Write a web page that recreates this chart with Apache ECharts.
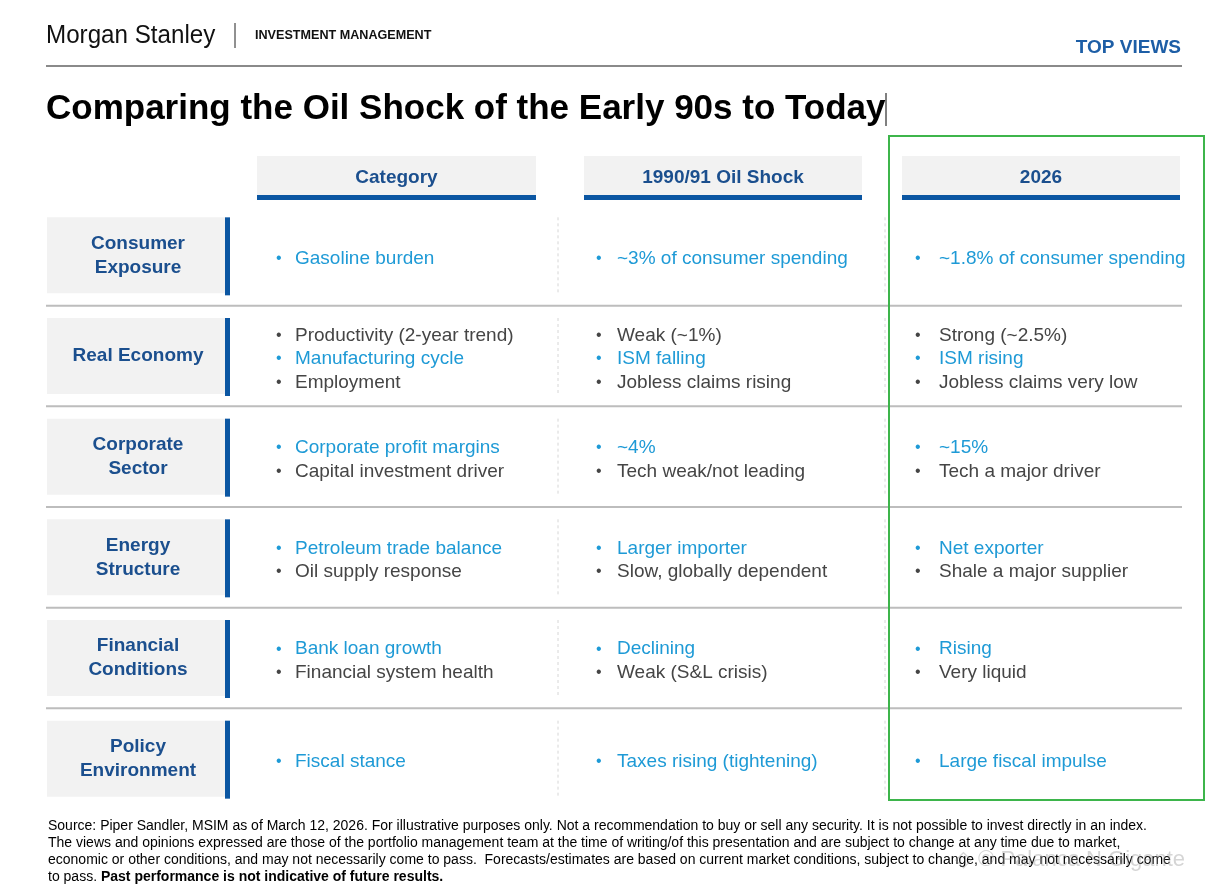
<!DOCTYPE html>
<html>
<head>
<meta charset="utf-8">
<title>Comparing the Oil Shock of the Early 90s to Today</title>
<script src="https://cdn.jsdelivr.net/npm/echarts@6/dist/echarts.min.js"></script>
<style>
  html, body { margin: 0; padding: 0; background: #fff; }
  #chart { width: 1222px; height: 884px; }
</style>
</head>
<body>
<div id="chart"></div>
<script>
// table content
const rowLabels = [
  'Consumer\nExposure',
  'Real Economy',
  'Corporate\nSector',
  'Energy\nStructure',
  'Financial\nConditions',
  'Policy\nEnvironment'
];

const columnHeaders = ['Category', '1990/91 Oil Shock', '2026'];

const categoryItems = [
  ['Gasoline burden'],
  ['Productivity (2-year trend)', 'Manufacturing cycle', 'Employment'],
  ['Corporate profit margins', 'Capital investment driver'],
  ['Petroleum trade balance', 'Oil supply response'],
  ['Bank loan growth', 'Financial system health'],
  ['Fiscal stance']
];

const oilShockItems = [
  ['~3% of consumer spending'],
  ['Weak (~1%)', 'ISM falling', 'Jobless claims rising'],
  ['~4%', 'Tech weak/not leading'],
  ['Larger importer', 'Slow, globally dependent'],
  ['Declining', 'Weak (S&L crisis)'],
  ['Taxes rising (tightening)']
];

const todayItems = [
  ['~1.8% of consumer spending'],
  ['Strong (~2.5%)', 'ISM rising', 'Jobless claims very low'],
  ['~15%', 'Tech a major driver'],
  ['Net exporter', 'Shale a major supplier'],
  ['Rising', 'Very liquid'],
  ['Large fiscal impulse']
];

// which bullet in each row is the highlighted (blue) one
const highlighted = [
  [true],
  [false, true, false],
  [true, false],
  [true, false],
  [true, false],
  [true]
];

const footnoteLines = [
  'Source: Piper Sandler, MSIM as of March 12, 2026. For illustrative purposes only. Not a recommendation to buy or sell any security. It is not possible to invest directly in an index.',
  'The views and opinions expressed are those of the portfolio management team at the time of writing/of this presentation and are subject to change at any time due to market,',
  'economic or other conditions, and may not necessarily come to pass.  Forecasts/estimates are based on current market conditions, subject to change, and may not necessarily come'
];

const FONT = '"Liberation Sans", Arial, sans-serif';
const NAVY = '#1b4f8e';
const BAR_BLUE = '#0b56a2';
const LIGHT_BLUE = '#1e9ad6';
const DARK_GRAY = '#454545';
const PANEL = '#f2f2f2';

const columnData = [categoryItems, oilShockItems, todayItems];
const bulletX = [276, 596, 915];
const textX = [295, 617, 939];
const headerBox = [[257, 536], [584, 862], [902, 1180]];

const chart = echarts.init(document.getElementById('chart'), null, { renderer: 'canvas' });

function renderRow(params, api) {
  const idx = api.value(1);
  const center = api.coord([0, idx]);
  const band = api.size([0, 1])[1];
  const cy = center[1];
  const top = cy - band / 2;
  const children = [];

  // row label panel
  children.push({
    type: 'rect',
    shape: { x: 47, y: cy - 38, width: 179, height: 76 },
    style: { fill: PANEL }
  });
  children.push({
    type: 'rect',
    shape: { x: 225, y: cy - 38, width: 5, height: 78 },
    style: { fill: BAR_BLUE }
  });
  children.push({
    type: 'text',
    style: {
      x: 138, y: cy,
      text: rowLabels[idx],
      font: 'bold 19px ' + FONT,
      fill: NAVY,
      align: 'center',
      verticalAlign: 'middle',
      lineHeight: 24
    }
  });

  // dashed column dividers
  [558, 885].forEach(function (x) {
    children.push({
      type: 'line',
      shape: { x1: x, y1: cy - 38, x2: x, y2: cy + 38 },
      style: { stroke: '#d6d6d6', lineWidth: 1, lineDash: [3, 3] }
    });
  });

  // bullet cells
  columnData.forEach(function (col, c) {
    const items = col[idx];
    const y0 = cy + 3 - (items.length - 1) * 23.5 / 2;
    items.forEach(function (txt, k) {
      const color = highlighted[idx][k] ? LIGHT_BLUE : DARK_GRAY;
      const y = y0 + k * 23.5;
      children.push({
        type: 'text',
        style: { x: bulletX[c], y: y, text: '•', font: '16px ' + FONT, fill: color, verticalAlign: 'middle' }
      });
      children.push({
        type: 'text',
        style: { x: textX[c], y: y, text: txt, font: '19px ' + FONT, fill: color, verticalAlign: 'middle' }
      });
    });
  });

  // separator below every row but the last
  if (idx < rowLabels.length - 1) {
    children.push({
      type: 'line',
      shape: { x1: 46, y1: top + band, x2: 1182, y2: top + band },
      style: { stroke: '#bdbdbd', lineWidth: 2 }
    });
  }

  return { type: 'group', children: children };
}

const headerGraphics = columnHeaders.map(function (h, i) {
  const x0 = headerBox[i][0], x1 = headerBox[i][1];
  return {
    type: 'group',
    children: [
      { type: 'rect', shape: { x: x0, y: 156, width: x1 - x0, height: 40 }, style: { fill: PANEL } },
      { type: 'rect', shape: { x: x0, y: 195, width: x1 - x0, height: 5 }, style: { fill: BAR_BLUE } },
      {
        type: 'text',
        style: {
          x: (x0 + x1) / 2, y: 178, text: h,
          font: 'bold 19px ' + FONT, fill: NAVY,
          align: 'center', verticalAlign: 'middle'
        }
      }
    ]
  };
});

const footnoteGraphics = footnoteLines.map(function (line, i) {
  return {
    type: 'text',
    style: {
      x: 48, y: 826 + i * 17, text: line,
      font: '14px ' + FONT,
      fill: '#000', verticalAlign: 'middle'
    }
  };
});

const option = {
  animation: false,
  backgroundColor: '#fff',
  grid: { left: 0, right: 0, top: 205, bottom: 75 },
  xAxis: { type: 'value', min: 0, max: 1, show: false },
  yAxis: {
    type: 'category',
    data: rowLabels,
    inverse: true,
    show: false
  },
  series: [{
    type: 'custom',
    renderItem: renderRow,
    data: rowLabels.map(function (_, i) { return [0, i]; }),
    silent: true
  }],
  graphic: [
    // brand header
    {
      type: 'text', x: 46, y: 36, scaleX: 0.93,
      style: { x: 0, y: 0, text: 'Morgan Stanley', font: '26px ' + FONT, fill: '#111', verticalAlign: 'middle' }
    },
    { type: 'line', shape: { x1: 235, y1: 23, x2: 235, y2: 48 }, style: { stroke: '#222', lineWidth: 1 } },
    {
      type: 'text', x: 255, y: 36, scaleX: 1.05,
      style: { x: 0, y: 0, text: 'INVESTMENT MANAGEMENT', font: 'bold 12px ' + FONT, fill: '#111', verticalAlign: 'middle' }
    },
    { type: 'text', style: { x: 1181, y: 48, text: 'TOP VIEWS', font: 'bold 19px ' + FONT, fill: '#1d5ea6', align: 'right', verticalAlign: 'middle' } },
    { type: 'line', shape: { x1: 46, y1: 66, x2: 1182, y2: 66 }, style: { stroke: '#8a8a8a', lineWidth: 2 } },
    // title
    { type: 'text', style: { x: 46, y: 109, text: 'Comparing the Oil Shock of the Early 90s to Today', font: 'bold 35px ' + FONT, fill: '#000', verticalAlign: 'middle' } },
    { type: 'line', shape: { x1: 886, y1: 93, x2: 886, y2: 126 }, style: { stroke: '#000', lineWidth: 1 } },
    // highlight box around 2026
    { type: 'rect', shape: { x: 889, y: 136, width: 315, height: 664 }, style: { fill: 'none', stroke: '#3db54b', lineWidth: 2 }, z: 10 },
    ...headerGraphics,
    ...footnoteGraphics,
    {
      type: 'text',
      style: {
        x: 48, y: 877,
        text: '{n|to pass. }{b|Past performance is not indicative of future results.}',
        verticalAlign: 'middle',
        rich: {
          n: { font: '14px ' + FONT, fill: '#000' },
          b: { font: 'bold 14px ' + FONT, fill: '#000' }
        }
      }
    },
    { type: 'text', style: { x: 955, y: 860, text: '◇ © Palanca N Gigante', font: '22px ' + FONT, fill: 'rgba(150,150,150,0.4)', verticalAlign: 'middle' }, z: 20 }
  ]
};

chart.setOption(option);
</script>
</body>
</html>
